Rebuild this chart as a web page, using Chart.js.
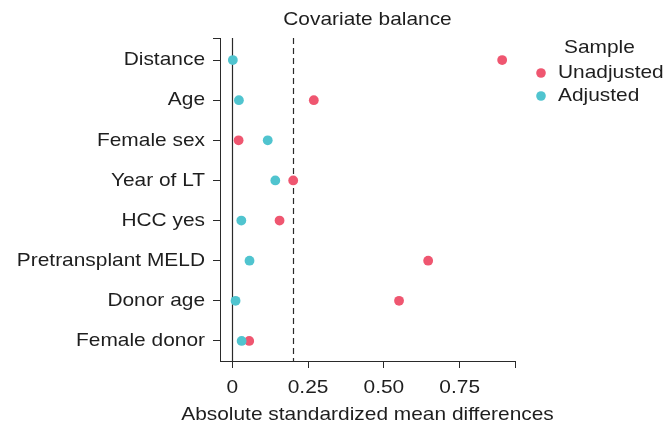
<!DOCTYPE html>
<html>
<head>
<meta charset="utf-8">
<script src="https://cdn.jsdelivr.net/npm/chart.js@4"></script>
<style>
  html, body { margin: 0; padding: 0; background: #fff; }
  #wrap { width: 669px; height: 431px; }
</style>
</head>
<body>
<div id="wrap"><canvas id="balanceChart"></canvas></div>
<script>
var covariates = ['Distance', 'Age', 'Female sex', 'Year of LT', 'HCC yes', 'Pretransplant MELD', 'Donor age', 'Female donor'];
var unadjusted = [0.890, 0.269, 0.021, 0.201, 0.156, 0.646, 0.550, 0.056];
var adjusted = [0.002, 0.022, 0.117, 0.142, 0.030, 0.057, 0.011, 0.031];
var xTicks = [0, 0.25, 0.5, 0.75];
var xTickLabels = ['0', '0.25', '0.50', '0.75'];
var threshold = 0.2;

var red = '#EF5670';
var teal = '#50C4CF';
var ink = '#1e1e1e';
var font = 'Liberation Sans, Arial, Helvetica, sans-serif';

// the original text is a bit wider than Liberation Sans, stretch it a little
var stretch = 1.1;
var origFill = CanvasRenderingContext2D.prototype.fillText;
CanvasRenderingContext2D.prototype.fillText = function (t, x, y) {
    this.save();
    this.translate(x, y);
    this.scale(stretch, 1);
    origFill.call(this, t, 0, 0);
    this.restore();
};

function points(vals) {
    return vals.map(function (v, i) { return { x: v, y: i }; });
}

var refLines = {
    id: 'refLines',
    beforeDatasetsDraw: function (chart) {
        var c = chart.ctx, a = chart.chartArea, xs = chart.scales.x;
        c.save();
        c.strokeStyle = '#2a2a2a';
        c.lineWidth = 1.2;
        var x0 = Math.round(xs.getPixelForValue(0)) + 0.5;
        c.beginPath(); c.moveTo(x0, a.top); c.lineTo(x0, a.bottom); c.stroke();
        var x1 = Math.round(xs.getPixelForValue(threshold)) + 0.5;
        c.setLineDash([6, 4]);
        c.beginPath(); c.moveTo(x1, a.top); c.lineTo(x1, a.bottom); c.stroke();
        c.restore();
    },
    afterDraw: function (chart) {
        var c = chart.ctx, a = chart.chartArea;
        c.save();
        c.fillStyle = ink;
        c.font = '19px ' + font;
        c.textBaseline = 'middle';
        c.textAlign = 'center';
        c.fillText('Covariate balance', (a.left + a.right) / 2, 20);
        // legend
        c.textAlign = 'left';
        c.fillText('Sample', 564, 48);
        var ds = chart.data.datasets;
        [ds[0], ds[1]].forEach(function (d, i) {
            var y = 73 + i * 23;
            c.fillStyle = d.backgroundColor;
            c.beginPath(); c.arc(541, y, 4.8, 0, Math.PI * 2); c.fill();
            c.fillStyle = ink;
            c.fillText(d.label, 558, y);
        });
        c.restore();
    }
};

var ctx = document.getElementById('balanceChart').getContext('2d');
var balanceChart = new Chart(ctx, {
    type: 'scatter',
    data: {
        datasets: [{
            label: 'Unadjusted',
            data: points(unadjusted),
            backgroundColor: red,
            borderWidth: 0,
            pointRadius: 4.9,
            pointHoverRadius: 4.9,
            order: 1
        }, {
            label: 'Adjusted',
            data: points(adjusted),
            backgroundColor: teal,
            borderWidth: 0,
            pointRadius: 4.9,
            pointHoverRadius: 4.9,
            order: 0
        }]
    },
    options: {
        responsive: true,
        maintainAspectRatio: false,
        animation: false,
        layout: { padding: { left: 0, right: 154, top: 38, bottom: 0 } },
        plugins: {
            legend: { display: false },
            tooltip: { enabled: false }
        },
        scales: {
            x: {
                type: 'linear',
                min: -0.0403,
                max: 0.9323,
                afterBuildTicks: function (s) {
                    s.ticks = xTicks.concat([s.max]).map(function (v) { return { value: v }; });
                },
                afterFit: function (s) { s.height = 70; },
                ticks: {
                    callback: function (v, i) { return i < xTickLabels.length ? xTickLabels[i] : ''; },
                    font: { size: 19, family: font },
                    color: ink,
                    padding: 8,
                    maxRotation: 0,
                    autoSkip: false
                },
                grid: { drawOnChartArea: false, tickLength: 7, color: '#2a2a2a' },
                border: { color: '#2a2a2a', width: 1 },
                title: {
                    display: true,
                    text: 'Absolute standardized mean differences',
                    font: { size: 19, family: font, lineHeight: 1 },
                    color: ink,
                    padding: { top: 0, bottom: 7 }
                }
            },
            y: {
                type: 'linear',
                reverse: true,
                min: -0.55,
                max: 7.5,
                afterBuildTicks: function (s) {
                    s.ticks = [{ value: s.min }].concat(covariates.map(function (c, i) { return { value: i }; }));
                },
                afterFit: function (s) { s.width = 220; },
                ticks: {
                    callback: function (v) { return covariates[v] !== undefined ? covariates[v] : ''; },
                    font: { size: 19, family: font },
                    color: ink,
                    padding: 8,
                    autoSkip: false
                },
                grid: { drawOnChartArea: false, tickLength: 7, color: '#2a2a2a' },
                border: { color: '#2a2a2a', width: 1 }
            }
        }
    },
    plugins: [refLines]
});
</script>
</body>
</html>
